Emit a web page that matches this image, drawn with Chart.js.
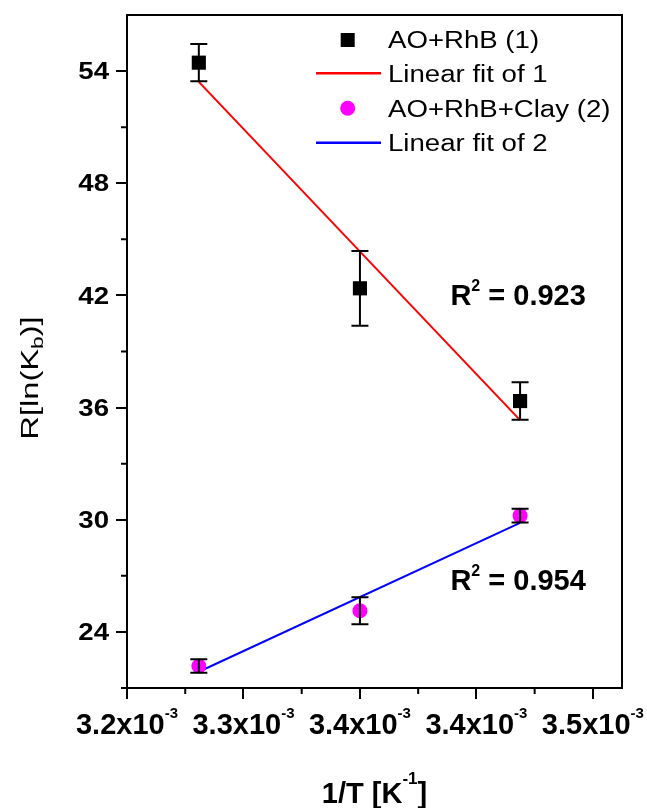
<!DOCTYPE html>
<html><head><meta charset="utf-8">
<style>html,body{margin:0;padding:0;background:#fff}#wrap{width:647px;height:808px}</style>
</head><body>
<div id="wrap"><canvas id="c" width="647" height="808"></canvas></div>
<script src="https://cdn.jsdelivr.net/npm/chart.js@4.4.1/dist/chart.umd.min.js"></script>
<script>
/* ===== data ===== */
const invT=[3.277,3.36,3.4425];                 // 1/T in units of 10^-3 K^-1
const s1=[54.45,42.38,36.35], e1=[1.0,2.0,1.0];  // AO+RhB
const s2=[22.18,25.13,30.22], e2=[0.36,0.72,0.37]; // AO+RhB+Clay
const fit1=[53.42,35.33], fit2=[21.87,29.83];    // fit line ends
const names=['AO+RhB (1)','Linear fit of 1','AO+RhB+Clay (2)','Linear fit of 2'];
const xTicks=[3.24,3.30,3.36,3.42,3.48], xMinor=[3.27,3.33,3.39,3.45];
const xTickTxt=['3.2','3.3','3.4','3.4','3.5'];
const yTicks=[24,30,36,42,48,54], yMinor=[21,27,33,39,45,51];
const r2Txt=['0.923','0.954'], r2X=[3.4415,3.4415], r2Y=[41.48,26.25];

const FF='"Liberation Sans", Arial, sans-serif';

/* ---------- text helper: parts = [text, font, dy] ---------- */
function rich(ctx,parts,x,y,sx,align){
  let w=0; parts.forEach(p=>{ctx.font=p[1]; w+=ctx.measureText(p[0]).width;});
  ctx.save(); ctx.translate(x,y); ctx.scale(sx,1);
  let cx=align==='center'?-w/2:align==='right'?-w:0;
  ctx.textAlign='left'; ctx.textBaseline='alphabetic'; ctx.fillStyle='#000';
  parts.forEach(p=>{ctx.font=p[1]; ctx.fillText(p[0],cx,p[2]||0); cx+=ctx.measureText(p[0]).width;});
  ctx.restore();
}

/* ---------- plugins ---------- */
const errBars={id:'errBars',afterDatasetsDraw(c){
  const {ctx,scales:{x,y}}=c;
  ctx.save(); ctx.strokeStyle='#000'; ctx.lineWidth=2;
  [[s1,e1],[s2,e2]].forEach(([v,e])=>v.forEach((val,i)=>{
    const px=x.getPixelForValue(invT[i]), t=y.getPixelForValue(val+e[i]), b=y.getPixelForValue(val-e[i]);
    ctx.beginPath(); ctx.moveTo(px,t); ctx.lineTo(px,b);
    ctx.moveTo(px-8.5,t); ctx.lineTo(px+8.5,t); ctx.moveTo(px-8.5,b); ctx.lineTo(px+8.5,b); ctx.stroke();
  }));
  ctx.restore();
}};

const frame={id:'frame',afterDraw(c){
  const {ctx,chartArea:{left,right,top,bottom},scales:{x,y}}=c;
  ctx.save(); ctx.strokeStyle='#000'; ctx.lineWidth=2;
  ctx.strokeRect(left,top,right-left,bottom-top);
  ctx.beginPath();
  xMinor.forEach(v=>{const p=x.getPixelForValue(v); ctx.moveTo(p,bottom); ctx.lineTo(p,bottom+6);});
  yMinor.forEach(v=>{const p=y.getPixelForValue(v); ctx.moveTo(left,p); ctx.lineTo(left-6,p);});
  ctx.stroke();

  // tick labels
  yTicks.forEach(v=>rich(ctx,[[String(v),'bold 23px '+FF]],109,y.getPixelForValue(v)+8.2,1.2,'right'));
  xTicks.forEach((v,i)=>rich(ctx,[[xTickTxt[i]+'x10','bold 29px '+FF],['-3','bold 15px '+FF,-16]],
    x.getPixelForValue(v),734,1,'center'));

  // axis titles
  rich(ctx,[['1/T [K','bold 29px '+FF],['-1','bold 17px '+FF,-19],[']','bold 29px '+FF]],(left+right)/2,803,1,'center');
  ctx.save(); ctx.translate(38,378); ctx.rotate(-Math.PI/2);
  rich(ctx,[['R[ln(K','23px '+FF],['b','16px '+FF,5],[')]','23px '+FF]],0,0,1.42,'center');
  ctx.restore();

  // R^2 notes
  r2Txt.forEach((t,i)=>rich(ctx,[['R','bold 29px '+FF],['2','bold 16px '+FF,-14],[' = '+t,'bold 29px '+FF]],
    x.getPixelForValue(r2X[i]),y.getPixelForValue(r2Y[i]),1,'center'));

  // legend
  const rows=[40,73.3,108.3,142.7];
  c.data.datasets.forEach((d,i)=>{
    const ry=rows[i];
    if(d.showLine){
      ctx.strokeStyle=d.borderColor; ctx.lineWidth=2.5;
      ctx.beginPath(); ctx.moveTo(316,ry); ctx.lineTo(381,ry); ctx.stroke();
    }else{
      ctx.fillStyle=d.backgroundColor;
      if(d.pointStyle==='rect') ctx.fillRect(347.7-7,ry-7,14,14);
      else{ctx.beginPath(); ctx.arc(347.7,ry,7.5,0,Math.PI*2); ctx.fill();}
    }
    rich(ctx,[[d.label,'23px '+FF]],388,ry+8.3,1.2,'left');
  });
  ctx.restore();
}};

/* ---------- chart ---------- */
const pts=v=>v.map((y,i)=>({x:invT[i],y}));
const ends=f=>[{x:invT[0],y:f[0]},{x:invT[2],y:f[1]}];

new Chart(document.getElementById('c'),{
  type:'scatter',
  data:{datasets:[
    {label:names[0],data:pts(s1),pointStyle:'rect',pointRadius:10,backgroundColor:'#000',borderWidth:0,order:0},
    {label:names[1],data:ends(fit1),showLine:true,borderColor:'#ff0000',borderWidth:2,pointRadius:0,order:1},
    {label:names[2],data:pts(s2),pointStyle:'circle',pointRadius:7.5,backgroundColor:'#ff00ff',borderWidth:0,order:0},
    {label:names[3],data:ends(fit2),showLine:true,borderColor:'#0000ff',borderWidth:2,pointRadius:0,order:1}
  ]},
  options:{
    responsive:false,animation:false,
    layout:{padding:{top:15,right:25,left:0,bottom:0}},
    plugins:{legend:{display:false},tooltip:{enabled:false}},
    scales:{
      x:{type:'linear',min:3.24,max:3.495,
         afterBuildTicks:s=>{s.ticks=xTicks.map(v=>({value:v}));},
         afterFit:s=>{s.height=120;},
         ticks:{display:false},border:{display:false},
         grid:{drawOnChartArea:false,tickLength:11,color:'#000',lineWidth:2}},
      y:{min:21,max:57,
         afterBuildTicks:s=>{s.ticks=yTicks.map(v=>({value:v}));},
         afterFit:s=>{s.width=127;},
         ticks:{display:false},border:{display:false},
         grid:{drawOnChartArea:false,tickLength:11,color:'#000',lineWidth:2}}
    }
  },
  plugins:[errBars,frame]
});
</script>
</body></html>
